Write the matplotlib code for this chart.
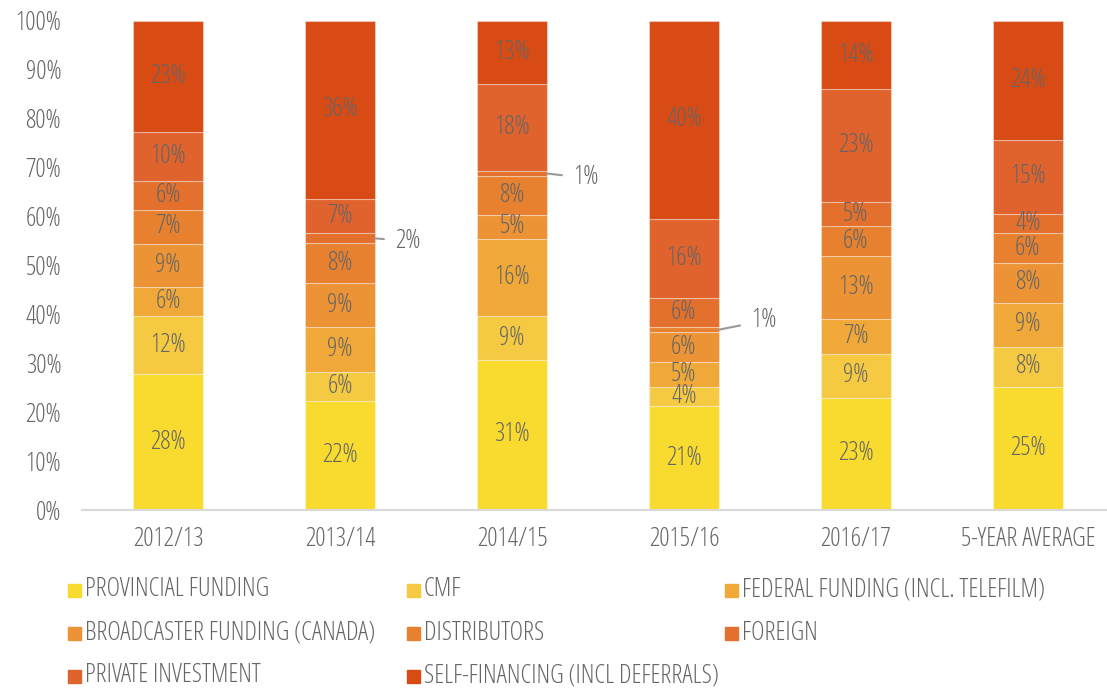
import numpy as np
import matplotlib.pyplot as plt
from matplotlib import font_manager
from matplotlib.patches import Rectangle

years = ['2012/13', '2013/14', '2014/15', '2015/16', '2016/17', '5-YEAR AVERAGE']
sources = ['PROVINCIAL FUNDING', 'CMF', 'FEDERAL FUNDING (INCL. TELEFILM)',
           'BROADCASTER FUNDING (CANADA)', 'DISTRIBUTORS', 'FOREIGN',
           'PRIVATE INVESTMENT', 'SELF-FINANCING (INCL DEFERRALS)']

# shares in %, one list per source, in year order
provincial = [28, 22, 31, 21, 23, 25]
cmf = [12, 6, 9, 4, 9, 8]
federal = [6, 9, 16, 5, 7, 9]
broadcaster = [9, 9, 5, 6, 13, 8]
distributors = [7, 8, 8, 1, 6, 6]
foreign = [6, 2, 1, 6, 5, 4]
private = [10, 7, 18, 16, 23, 15]
self_fin = [23, 36, 13, 40, 14, 24]

colors = ['#F9DB30', '#F5CA42', '#F0A838', '#EB9335', '#E8812F', '#E3702C',
          '#E0622C', '#D94B14']
txt = '#666666'

# look for a narrow face, the original uses a condensed sans
fam, stretch, fs = 'DejaVu Sans', 'normal', 13
found = {(f.name, f.stretch) for f in font_manager.fontManager.ttflist if f.style == 'normal'}
for name, st in [('Liberation Sans Narrow', 'normal'), ('Roboto Condensed', 'normal'),
                 ('Open Sans Condensed', 'normal'), ('Roboto', 'condensed'),
                 ('Open Sans', 'condensed'), ('Noto Sans', 'condensed'),
                 ('DejaVu Sans', 'condensed'), ('DejaVu Sans', 'semi-condensed')]:
    if (name, st) in found:
        fam, stretch, fs = name, st, 18.5
        break
plt.rcParams['font.family'] = [fam, 'DejaVu Sans']
plt.rcParams['font.stretch'] = stretch

vals = np.array([provincial, cmf, federal, broadcaster, distributors,
                 foreign, private, self_fin], dtype=float)
shares = vals / vals.sum(axis=0) * 100  # stacked to 100%

fig = plt.figure(figsize=(11.07, 6.9), dpi=100)
ax = fig.add_axes([82 / 1107, 180 / 690, 1025 / 1107, 489 / 690])

x = np.arange(len(years))
w = 0.407
bottom = np.zeros(len(years))
for k in range(len(sources)):
    ax.bar(x, shares[k], w, bottom=bottom, color=colors[k],
           edgecolor=(1, 1, 1, 0.35), linewidth=0.8)
    for i in range(len(years)):
        mid = bottom[i] + shares[k][i] / 2
        v = int(vals[k][i])
        if v <= 2:
            # small slices get a callout on the right
            off = {1: (0.32, 55.0), 2: (0.355, 67.9), 3: (0.39, 38.7)}[i]
            ax.annotate(f'{v}%', xy=(x[i] + w / 2, mid),
                        xytext=(x[i] + off[0], off[1]),
                        ha='left', va='center', fontsize=fs, color=txt,
                        arrowprops=dict(arrowstyle='-', color='#999999',
                                        lw=1.5, shrinkA=6, shrinkB=0))
        else:
            ax.text(x[i], mid, f'{v}%', ha='center', va='center',
                    fontsize=fs, color=txt)
    bottom += shares[k]

ax.set_xlim(-0.5, 5.46)
ax.set_ylim(0, 100)
ax.set_yticks(np.arange(0, 101, 10))
ax.set_yticklabels([f'{t}%' for t in range(0, 101, 10)])
ax.set_xticks(x)
ax.set_xticklabels(years)
ax.tick_params(axis='both', length=0, labelsize=fs, labelcolor=txt)
ax.tick_params(axis='x', pad=12)
ax.tick_params(axis='y', pad=15)
for s in ['top', 'right', 'left']:
    ax.spines[s].set_visible(False)
ax.spines['bottom'].set_color('#d9d9d9')
ax.spines['bottom'].set_linewidth(1.5)

# legend, three columns
col_x = [68, 407, 725]
row_y = [590, 633, 676]
for k, name in enumerate(sources):
    cx = col_x[k % 3]
    cy = row_y[k // 3]
    fig.add_artist(Rectangle((cx / 1107, (690 - cy - 6.5) / 690), 13 / 1107, 13 / 690,
                             color=colors[k], transform=fig.transFigure))
    fig.text((cx + 17) / 1107, (690 - cy) / 690, name, ha='left', va='center',
             fontsize=fs, color=txt)

fig.savefig('out.png', dpi=100)
